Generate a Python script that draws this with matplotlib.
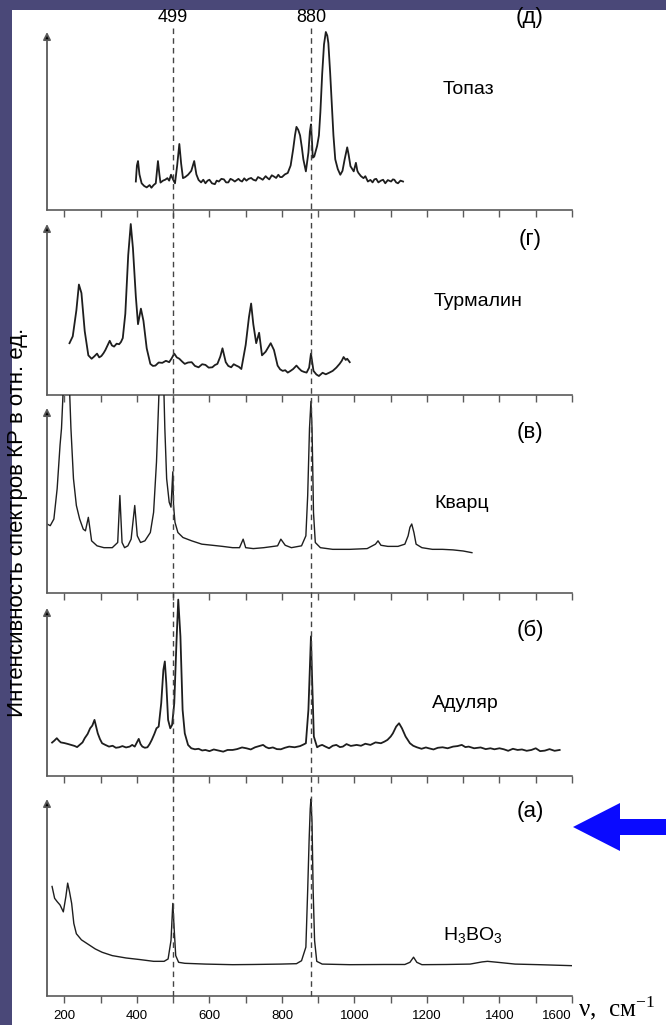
import matplotlib
matplotlib.use("Agg")
import matplotlib.pyplot as plt
from matplotlib.patches import Rectangle, Polygon
from matplotlib.lines import Line2D
from matplotlib import transforms

plt.rcParams['font.family'] = ['Liberation Sans', 'DejaVu Sans']
plt.rcParams['mathtext.default'] = 'regular'

# ---- Raman spectra (wavenumber, cm^-1 ; relative intensity) ----
topaz_nu = [397, 400, 403, 407, 413, 420, 427, 435, 440, 446, 452, 458, 462, 465, 472,
            478, 484, 489, 494, 500, 505, 511, 517, 522, 527, 533, 541, 550, 558, 564,
            570, 577, 583, 589, 595, 600, 607, 615, 620, 626, 633, 640, 646, 652, 658,
            664, 670, 680, 685, 690, 696, 702, 708, 715, 721, 728, 734, 740, 747, 755,
            760, 765, 772, 778, 784, 790, 795, 800, 808, 816, 824, 831, 836, 840, 845,
            850, 855, 859, 866, 873, 877, 880, 883, 885, 889, 892, 897, 902, 906, 911,
            916, 921, 925, 928, 933, 938, 942, 947, 954, 961, 967, 973, 980, 984, 989,
            994, 998, 1004, 1008, 1011, 1018, 1025, 1030, 1037, 1044, 1050, 1055, 1060,
            1066, 1073, 1079, 1085, 1092, 1101, 1106, 1110, 1115, 1120, 1127, 1134]
topaz_i = [0.16, 0.25, 0.275, 0.2, 0.15, 0.135, 0.127, 0.14, 0.125, 0.14, 0.15, 0.275,
           0.2, 0.154, 0.165, 0.17, 0.179, 0.165, 0.198, 0.17, 0.15, 0.25, 0.371, 0.26,
           0.179, 0.185, 0.198, 0.22, 0.275, 0.2, 0.169, 0.155, 0.17, 0.15, 0.165, 0.17,
           0.15, 0.145, 0.165, 0.16, 0.175, 0.172, 0.155, 0.155, 0.175, 0.169, 0.16, 0.175,
           0.165, 0.16, 0.178, 0.165, 0.175, 0.18, 0.17, 0.165, 0.185, 0.179, 0.17, 0.19,
           0.18, 0.172, 0.195, 0.188, 0.18, 0.198, 0.185, 0.185, 0.2, 0.208, 0.25, 0.342,
           0.42, 0.467, 0.45, 0.419, 0.35, 0.285, 0.217, 0.323, 0.44, 0.481, 0.38, 0.294,
           0.30, 0.323, 0.36, 0.419, 0.55, 0.765, 0.93, 1.0, 0.98, 0.938, 0.77, 0.573,
           0.42, 0.285, 0.23, 0.198, 0.22, 0.285, 0.352, 0.31, 0.246, 0.23, 0.217, 0.265,
           0.22, 0.208, 0.19, 0.179, 0.19, 0.16, 0.169, 0.155, 0.172, 0.175, 0.155, 0.165,
           0.17, 0.15, 0.168, 0.16, 0.172, 0.17, 0.155, 0.15, 0.165, 0.16]

tourm_nu = [214, 223, 233, 240, 247, 256, 266, 275, 282, 290, 296, 302, 308, 313, 319,
            325, 331, 337, 344, 351, 356, 361, 368, 376, 383, 389, 397, 403, 411, 418,
            427, 437, 444, 451, 460, 470, 480, 489, 496, 503, 510, 517, 525, 532, 541,
            551, 560, 570, 580, 589, 598, 608, 615, 622, 630, 636, 645, 652, 660, 667,
            674, 681, 688, 700, 709, 715, 721, 729, 737, 745, 755, 769, 778, 788, 795,
            802, 809, 816, 823, 831, 840, 847, 854, 861, 868, 875, 880, 887, 895, 902,
            912, 921, 930, 940, 950, 959, 965, 970, 976, 980, 987]
tourm_i = [0.303, 0.343, 0.495, 0.646, 0.596, 0.374, 0.232, 0.212, 0.225, 0.242, 0.22,
           0.228, 0.245, 0.263, 0.29, 0.317, 0.29, 0.283, 0.3, 0.297, 0.31, 0.333, 0.475,
           0.818, 1.0, 0.859, 0.576, 0.414, 0.505, 0.434, 0.273, 0.182, 0.17, 0.172, 0.19,
           0.188, 0.2, 0.192, 0.215, 0.242, 0.22, 0.212, 0.195, 0.182, 0.19, 0.192, 0.17,
           0.162, 0.18, 0.176, 0.16, 0.162, 0.175, 0.182, 0.225, 0.273, 0.192, 0.17, 0.162,
           0.18, 0.172, 0.165, 0.152, 0.293, 0.455, 0.535, 0.414, 0.303, 0.364, 0.232,
           0.253, 0.303, 0.263, 0.172, 0.15, 0.141, 0.145, 0.131, 0.14, 0.152, 0.172,
           0.155, 0.141, 0.135, 0.131, 0.16, 0.242, 0.141, 0.12, 0.111, 0.13, 0.121,
           0.13, 0.141, 0.16, 0.182, 0.2, 0.222, 0.205, 0.212, 0.192]

quartz_nu = [152, 161, 171, 180, 188, 192, 197, 204, 214, 218, 225, 233, 242, 252, 258,
             266, 271, 275, 290, 309, 332, 347, 353, 359, 366, 375, 384, 394, 401, 410,
             422, 437, 446, 454, 459, 463, 473, 477, 482, 489, 494, 499, 501, 505, 513,
             527, 551, 579, 608, 636, 664, 683, 693, 700, 721, 750, 788, 797, 809, 826,
             854, 866, 871, 876, 880, 883, 887, 892, 906, 940, 987, 1035, 1058, 1065,
             1073, 1092, 1120, 1139, 1148, 1153, 1158, 1164, 1170, 1186, 1215, 1243,
             1272, 1300, 1324]
quartz_i = [0.373, 0.364, 0.40, 0.564, 0.80, 0.89, 1.11, 1.25, 1.11, 0.89, 0.618, 0.473,
            0.40, 0.345, 0.336, 0.409, 0.34, 0.282, 0.255, 0.245, 0.245, 0.273, 0.527,
            0.273, 0.245, 0.255, 0.291, 0.473, 0.309, 0.273, 0.282, 0.327, 0.436, 0.709,
            0.98, 1.2, 1.2, 0.89, 0.618, 0.491, 0.464, 0.655, 0.473, 0.382, 0.327, 0.30,
            0.282, 0.264, 0.258, 0.252, 0.245, 0.245, 0.291, 0.245, 0.24, 0.245, 0.255,
            0.291, 0.258, 0.245, 0.255, 0.309, 0.527, 0.89, 1.036, 0.89, 0.436, 0.273,
            0.245, 0.236, 0.236, 0.24, 0.264, 0.282, 0.258, 0.252, 0.252, 0.264, 0.309,
            0.355, 0.373, 0.327, 0.264, 0.245, 0.236, 0.236, 0.233, 0.227, 0.218]

adul_nu = [166, 172, 179, 185, 190, 200, 209, 218, 228, 235, 242, 250, 256, 264, 271,
           277, 283, 292, 298, 304, 313, 323, 333, 342, 351, 360, 370, 380, 387, 394,
           400, 405, 410, 415, 422, 429, 435, 441, 448, 454, 460, 467, 473, 477, 481,
           486, 492, 497, 503, 509, 514, 520, 526, 532, 541, 550, 560, 570, 580, 589,
           600, 612, 626, 638, 650, 664, 676, 690, 702, 714, 726, 737, 748, 756, 764,
           775, 786, 797, 808, 820, 835, 850, 860, 866, 873, 880, 883, 888, 893, 897,
           904, 911, 920, 930, 940, 950, 960, 968, 978, 990, 1006, 1018, 1030, 1044, 1058,
           1073, 1083, 1091, 1100, 1106, 1115, 1123, 1131, 1141, 1153, 1162, 1172, 1185,
           1197, 1205, 1218, 1230, 1243, 1257, 1272, 1284, 1296, 1306, 1315, 1330, 1348,
           1362, 1375, 1386, 1400, 1412, 1424, 1437, 1450, 1462, 1475, 1488, 1500, 1512,
           1525, 1538, 1552, 1566]
adul_i = [0.199, 0.21, 0.225, 0.21, 0.20, 0.196, 0.191, 0.185, 0.179, 0.172, 0.185, 0.2,
          0.225, 0.25, 0.284, 0.3, 0.334, 0.254, 0.22, 0.195, 0.185, 0.175, 0.18, 0.168,
          0.171, 0.178, 0.17, 0.175, 0.185, 0.175, 0.2, 0.221, 0.19, 0.175, 0.168, 0.171,
          0.19, 0.215, 0.25, 0.284, 0.294, 0.433, 0.632, 0.682, 0.553, 0.334, 0.284, 0.304,
          0.433, 0.791, 1.05, 0.831, 0.394, 0.254, 0.185, 0.165, 0.159, 0.162, 0.152,
          0.155, 0.148, 0.158, 0.151, 0.145, 0.155, 0.155, 0.16, 0.17, 0.165, 0.158, 0.171,
          0.178, 0.185, 0.172, 0.165, 0.17, 0.16, 0.159, 0.168, 0.175, 0.171, 0.178,
          0.188, 0.195, 0.394, 0.831, 0.592, 0.235, 0.2, 0.171, 0.18, 0.185, 0.175, 0.165,
          0.18, 0.185, 0.172, 0.175, 0.19, 0.179, 0.185, 0.18, 0.192, 0.185, 0.2, 0.195,
          0.205, 0.215, 0.235, 0.254, 0.294, 0.314, 0.284, 0.235, 0.195, 0.18, 0.171,
          0.162, 0.17, 0.165, 0.158, 0.168, 0.171, 0.165, 0.175, 0.178, 0.185, 0.172,
          0.175, 0.165, 0.17, 0.16, 0.165, 0.159, 0.165, 0.159, 0.15, 0.162, 0.155, 0.158,
          0.15, 0.155, 0.165, 0.148, 0.151, 0.16, 0.15, 0.155]

boric_nu = [166, 173, 180, 188, 197, 204, 209, 214, 220, 226, 233, 247, 266, 285, 304,
            332, 370, 408, 446, 475, 486, 494, 499, 503, 507, 515, 532, 589, 664, 721,
            797, 840, 854, 866, 871, 875, 878, 880, 883, 886, 890, 896, 911, 987, 1082,
            1139, 1153, 1163, 1172, 1186, 1253, 1319, 1352, 1367, 1395, 1443, 1509, 1599]
boric_i = [0.556, 0.496, 0.479, 0.462, 0.427, 0.504, 0.573, 0.53, 0.47, 0.368, 0.316,
           0.285, 0.262, 0.239, 0.222, 0.205, 0.193, 0.185, 0.176, 0.176, 0.188, 0.282,
           0.47, 0.333, 0.205, 0.171, 0.166, 0.162, 0.159, 0.16, 0.162, 0.164, 0.179,
           0.248, 0.538, 0.795, 0.95, 1.0, 0.88, 0.538, 0.282, 0.176, 0.162, 0.159, 0.16,
           0.16, 0.171, 0.197, 0.171, 0.159, 0.16, 0.162, 0.173, 0.176, 0.171, 0.162,
           0.159, 0.154]

names = ["Топаз", "Турмалин", "Кварц", "Адуляр", "H$_3$BO$_3$"]
letters = ["(д)", "(г)", "(в)", "(б)", "(а)"]
spectra = [(topaz_nu, topaz_i), (tourm_nu, tourm_i), (quartz_nu, quartz_i),
           (adul_nu, adul_i), (boric_nu, boric_i)]
line_widths = [1.3, 1.3, 1.0, 1.3, 1.0]
marker_lines = [499, 880]
tick_labels = [200, 400, 600, 800, 1000, 1200, 1400, 1600]

# ---- layout in pixels ----
W, H = 666, 1025
fig = plt.figure(figsize=(W / 100, H / 100), dpi=100)
fig.patch.set_facecolor('#4a4878')
fig.patches.append(Rectangle((12 / W, 0), 1, 1 - 10 / H, transform=fig.transFigure,
                             facecolor='white', edgecolor='none', zorder=-10))

X0, X1 = 47, 572
XMIN, XMAX = 152, 1600
# (arrow tip, x-axis, upper clip edge) for each panel
rows = [(32, 210, 22), (224, 395, 210), (408, 593, 395), (608, 776, 593), (799, 996, 776)]

def fx(px):
    return px / W

def fy(py):
    return 1 - py / H

axes = []
for k, ((tip, base, ceil), (nu, inten), lw) in enumerate(zip(rows, spectra, line_widths)):
    ax = fig.add_axes([fx(X0), fy(base), (X1 - X0) / W, (base - ceil) / H])
    ax.patch.set_alpha(0)
    ax.set_xlim(XMIN, XMAX)
    ax.set_ylim(0, (base - ceil) / (base - tip))
    for s in ('top', 'right', 'left'):
        ax.spines[s].set_visible(False)
    ax.spines['bottom'].set_color('#5a5a5a')
    ax.spines['bottom'].set_linewidth(1.2)
    ax.set_yticks([])
    ax.set_xticks(tick_labels)
    ax.set_xticks(range(200, 1601, 100), minor=True)
    ax.tick_params(axis='x', which='both', direction='out', length=5, width=1,
                   color='#5a5a5a', labelsize=9.5, pad=5)
    if k < 4:
        ax.tick_params(axis='x', labelbottom=False)
    ax.plot(nu, inten, color='#1e1e1e', lw=lw)
    ax.annotate('', xy=(0, 1), xytext=(0, 0),
                xycoords=ax.get_yaxis_transform(), textcoords=ax.get_yaxis_transform(),
                arrowprops=dict(arrowstyle='-|>', color='#5a5a5a', lw=1.3,
                                mutation_scale=11, shrinkA=0, shrinkB=0,
                                fc='black', ec='#5a5a5a'))
    axes.append(ax)

# last tick label kept left of the axis title
axes[-1].get_xticklabels()[-1].set_horizontalalignment('right')

# dashed guide lines across all panels
blend = transforms.blended_transform_factory(axes[-1].transData, fig.transFigure)
for v in marker_lines:
    fig.lines.append(Line2D([v, v], [fy(28), fy(996)], transform=blend, color='#444444',
                            lw=1.0, ls=(0, (4, 3)), zorder=5))
    fig.text(v, fy(17), str(v), transform=blend, ha='center', va='center', fontsize=13)

label_pos = [(468, 90), (478, 301), (462, 503), (465, 703), (473, 935)]
letter_y = [17, 240, 433, 630, 812]
for name, (lx, ly), lt, ty in zip(names, label_pos, letters, letter_y):
    fig.text(fx(lx), fy(ly), name, ha='center', va='center', fontsize=14)
    fig.text(fx(530), fy(ty), lt, ha='center', va='center', fontsize=16)

fig.text(fx(18), fy(522), "Интенсивность спектров КР в отн. ед.", rotation=90,
         ha='center', va='center', fontsize=16)
fig.text(fx(578), fy(1008), "ν,  см$^{-1}$", ha='left', va='center', fontsize=18,
         family=['Liberation Serif', 'DejaVu Serif'])

# blue pointer arrow
arrow = Polygon([(fx(573), fy(827)), (fx(620), fy(803)), (fx(620), fy(819)), (fx(666), fy(819)),
                 (fx(666), fy(835)), (fx(620), fy(835)), (fx(620), fy(851))],
                closed=True, transform=fig.transFigure, facecolor='#0a0aff', edgecolor='none')
fig.patches.append(arrow)

fig.savefig('out.png', dpi=100, facecolor=fig.get_facecolor())
